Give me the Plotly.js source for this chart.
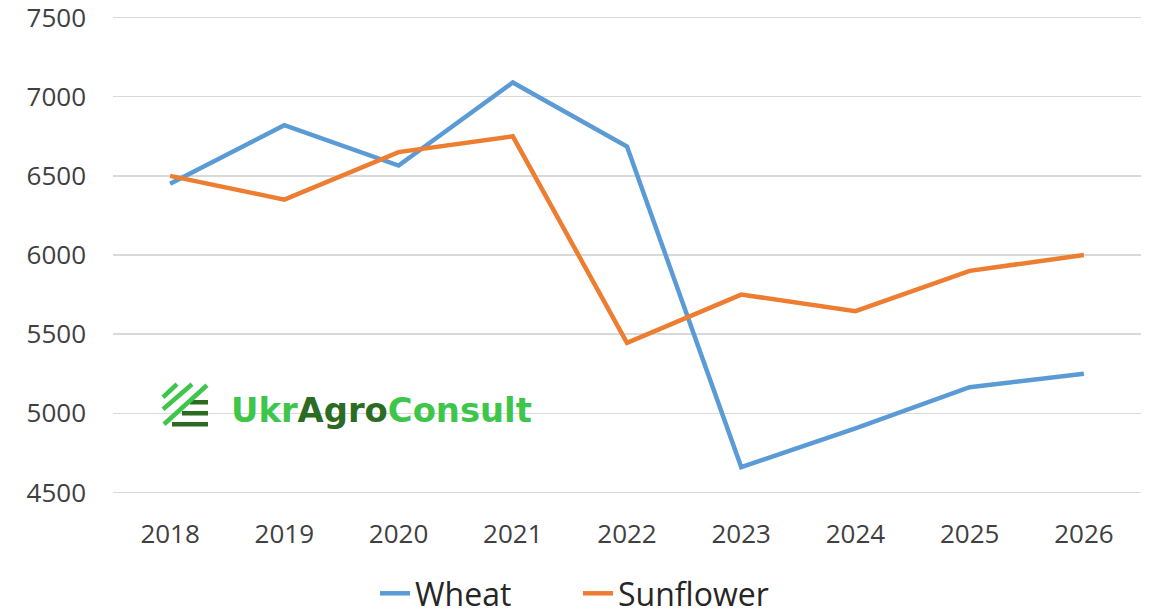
<!DOCTYPE html>
<html>
<head>
<meta charset="utf-8">
<script src="https://cdn.plot.ly/plotly-3.0.1.min.js"></script>
<style>html,body{margin:0;padding:0;background:#fff;}#chart{width:1153px;height:615px;}</style>
</head>
<body>
<div id="chart"></div>
<script>
const years = ["2018","2019","2020","2021","2022","2023","2024","2025","2026"];
const wheat = [6450, 6820, 6565, 7090, 6685, 4660, 4905, 5165, 5250];
const sunflower = [6500, 6350, 6650, 6750, 5445, 5750, 5645, 5900, 6000];
const yTicks = [4500, 5000, 5500, 6000, 6500, 7000, 7500];

const W = 1153, H = 615;
const L = 113, R = 12, T = 16.4, B = 121.4;
const pw = W - L - R, ph = H - T - B;
const px = x => (x - L) / pw;
const py = y => (H - B - y) / ph;

const bright = "#3dc64b", dark = "#2b6b22";
function seg(x0, y0, x1, y1, color) {
  return {type: "line", xref: "paper", yref: "paper", x0: px(x0), y0: py(y0), x1: px(x1), y1: py(y1),
    line: {color: color, width: 4.5}, layer: "above"};
}
const shapes = [
  seg(190, 402, 208, 402, dark),
  seg(182, 413, 208, 413, dark),
  seg(172, 424, 208, 424, dark),
  seg(163, 397, 177, 384, bright),
  seg(163, 409, 192, 384, bright),
  seg(164, 424, 207, 385, bright)
];

const data = [
  {x: years, y: wheat, name: "Wheat", type: "scatter", mode: "lines",
   line: {color: "#5b9bd5", width: 4.5}},
  {x: years, y: sunflower, name: "Sunflower", type: "scatter", mode: "lines",
   line: {color: "#ed7d31", width: 4.5}}
];

const layout = {
  width: W, height: H,
  margin: {l: L, r: R, t: T, b: B},
  paper_bgcolor: "#fff", plot_bgcolor: "#fff",
  font: {family: "Open Sans, sans-serif", color: "#404040", size: 26},
  xaxis: {type: "category", range: [-0.5, 8.5], showgrid: false, zeroline: false, showline: false,
    ticks: "", ticklabelstandoff: 22, tickfont: {size: 26, color: "#404040"}},
  yaxis: {range: [4490, 7510], tickvals: yTicks, showgrid: true, gridcolor: "#d9d9d9", gridwidth: 1.3,
    zeroline: false, showline: false, ticks: "", ticklabelstandoff: 26, ticklabeloverflow: "allow",
    tickfont: {size: 26, color: "#404040"}},
  showlegend: true,
  legend: {orientation: "h", x: 375 / W, xref: "container", xanchor: "left",
    y: 1 - 566 / H, yref: "container", yanchor: "top",
    entrywidth: 158, entrywidthmode: "pixels",
    font: {size: 32, color: "#262626"}, tracegroupgap: 0},
  shapes: shapes,
  annotations: [{
    xref: "paper", yref: "paper", x: px(229), y: py(410), xanchor: "left", yanchor: "middle",
    showarrow: false,
    text: '<b><span style="color:' + bright + '">Ukr</span><span style="color:' + dark + '">Agro</span><span style="color:' + bright + '">Consult</span></b>',
    font: {family: "DejaVu Sans", size: 33.8}
  }]
};

Plotly.newPlot("chart", data, layout, {displayModeBar: false, staticPlot: true});
</script>
</body>
</html>
